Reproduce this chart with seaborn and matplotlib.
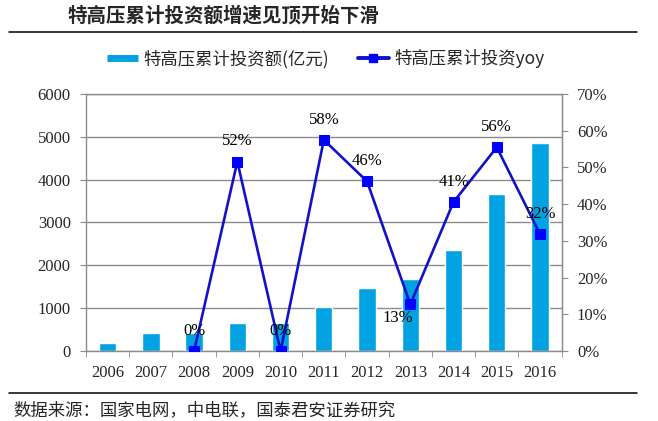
import numpy as np
import pandas as pd
import matplotlib
matplotlib.use('Agg')
import matplotlib.pyplot as plt
from matplotlib.lines import Line2D
import seaborn as sns

# chart data
years = ['2006', '2007', '2008', '2009', '2010', '2011',
         '2012', '2013', '2014', '2015', '2016']
invest = [195, 425, 425, 645, 645, 1016, 1481, 1670, 2358, 3670, 4850]   # 亿元
yoy_years = ['2008', '2009', '2010', '2011', '2012', '2013', '2014', '2015', '2016']
yoy = [0, 51.6, 0, 57.5, 46.2, 12.7, 40.6, 55.5, 31.8]                 # %
yoy_text = ['0%', '52%', '0%', '58%', '46%', '13%', '41%', '56%', '32%']
left_ticks = [0, 1000, 2000, 3000, 4000, 5000, 6000]
right_ticks = [0, 10, 20, 30, 40, 50, 60, 70]

title = '特高压累计投资额增速见顶开始下滑'
bar_name = '特高压累计投资额(亿元)'
line_name = '特高压累计投资yoy'
source = '数据来源：国家电网，中电联，国泰君安证券研究'

bar_color = '#00a2e2'
line_color = '#1212c8'
marker_color = '#0000ff'
grid_color = '#8c8c8c'

sns.set_style('white')
plt.rcParams['font.family'] = ['Liberation Serif', 'Noto Sans CJK SC']
cjk = ['Noto Sans CJK SC', 'DejaVu Sans']

df = pd.DataFrame({'year': years, 'invest': invest})
df['pos'] = np.arange(len(df))
line_df = pd.DataFrame({'year': yoy_years, 'yoy': yoy, 'label': yoy_text})
line_df['pos'] = line_df['year'].map(dict(zip(years, df['pos'])))

fig = plt.figure(figsize=(6.58, 4.21), dpi=100)
ax = fig.add_axes([0.1307, 0.1663, 0.8536 - 0.1307, 0.7767 - 0.1663])

sns.barplot(data=df, x='year', y='invest', color=bar_color, saturation=1,
            width=0.4, ax=ax)
ax.set_ylim(0, 6000)
ax.set_yticks(left_ticks)
ax.set_xlim(-0.5, len(years) - 0.5)
ax.set_axisbelow(True)
ax.yaxis.grid(True, color=grid_color, lw=1)
ax.set_xlabel('')
ax.set_ylabel('')
for s in ['left', 'right', 'bottom', 'top']:
    ax.spines[s].set_color(grid_color)
    ax.spines[s].set_linewidth(1)

# x ticks sit between categories
ax.set_xticks(np.arange(-0.5, len(years), 1.0), minor=True)
ax.tick_params(axis='x', which='major', length=0, pad=10, labelsize=12)
ax.tick_params(axis='x', which='minor', length=4, color=grid_color, direction='out', bottom=True)
ax.tick_params(axis='y', length=4, color=grid_color, direction='out', pad=7, labelsize=12, left=True)

ax2 = ax.twinx()
sns.lineplot(data=line_df, x='pos', y='yoy', ax=ax2, color=line_color, lw=1.9,
             marker='s', markersize=6.5, markerfacecolor=marker_color,
             markeredgecolor=marker_color, zorder=3)
ax2.set_ylim(0, 70)
ax2.set_yticks(right_ticks)
ax2.set_yticklabels([f'{t}%' for t in right_ticks])
ax2.set_xlim(-0.5, len(years) - 0.5)
ax2.set_xlabel('')
ax2.set_ylabel('')
ax2.grid(False)
for s in ['left', 'bottom', 'top']:
    ax2.spines[s].set_visible(False)
ax2.spines['right'].set_color(grid_color)
ax2.tick_params(axis='y', length=4, color=grid_color, direction='out', pad=7,
                labelsize=12, right=True)

for _, r in line_df.iterrows():
    if r['label'] == '13%':
        off = (-9, -9.5)
    else:
        off = (0, 14.5)
    ax2.annotate(r['label'], (r['pos'], r['yoy']), xytext=off,
                 textcoords='offset points', ha='center', va='center',
                 fontsize=12, color='black')

handles = [Line2D([], [], color=bar_color, lw=5, solid_capstyle='butt'),
           Line2D([], [], color=line_color, lw=2.8, marker='s', markersize=5.5,
                  markerfacecolor=marker_color, markeredgecolor=marker_color)]
fig.legend(handles, [bar_name, line_name], loc='center', ncol=2,
           bbox_to_anchor=(0.495, 1 - 58.5 / 421), frameon=False,
           prop={'family': cjk, 'size': 12.5}, handlelength=1.8,
           handletextpad=0.3, columnspacing=1.65, borderpad=0)

fig.text(68 / 658, 1 - 16 / 421, title, family=cjk, fontsize=14,
         fontweight='bold', ha='left', va='center')
fig.text(13 / 658, 1 - 410 / 421, source, family=cjk, fontsize=12.5,
         ha='left', va='center')
fig.add_artist(Line2D([9 / 658, 637 / 658], [1 - 31.7 / 421] * 2,
                      color='black', lw=1.1))
fig.add_artist(Line2D([9 / 658, 637 / 658], [1 - 393.3 / 421] * 2,
                      color='black', lw=1.1))

fig.savefig('out.png', dpi=100)
